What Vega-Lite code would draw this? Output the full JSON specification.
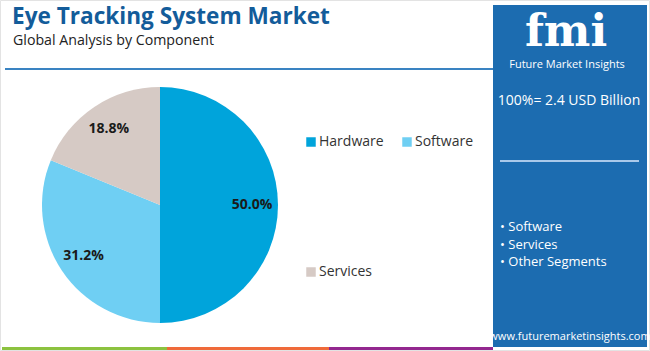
{
  "$schema": "https://vega.github.io/schema/vega-lite/v6.json",
  "width": 650,
  "height": 351,
  "autosize": {"type": "fit", "contains": "padding"},
  "padding": 0,
  "background": "white",
  "config": {"view": {"stroke": null}, "font": "Open Sans"},
  "datasets": {
    "share": [
      {"component": "Hardware", "share": 0.5, "rank": 1},
      {"component": "Software", "share": 0.312, "rank": 2},
      {"component": "Services", "share": 0.188, "rank": 3}
    ],
    "one": [{"k": 1}]
  },
  "layer": [
    {
      "data": {"name": "one"},
      "mark": {"type": "rect", "fill": "white", "stroke": "#e3e3e3", "strokeWidth": 1},
      "encoding": {"x": {"value": 0.5}, "x2": {"value": 649.5}, "y": {"value": 0.5}, "y2": {"value": 350.5}}
    },
    {
      "data": {"name": "one"},
      "mark": {"type": "text", "text": "Eye Tracking System Market", "fontWeight": "bold", "fontSize": 22.6, "color": "#135c9a", "align": "left", "baseline": "alphabetic"},
      "encoding": {"x": {"value": 12}, "y": {"value": 24}}
    },
    {
      "data": {"name": "one"},
      "mark": {"type": "text", "text": "Global Analysis by Component", "fontSize": 14.2, "color": "#222222", "align": "left", "baseline": "alphabetic"},
      "encoding": {"x": {"value": 13}, "y": {"value": 45}}
    },
    {
      "data": {"name": "one"},
      "mark": {"type": "rule", "color": "#3a83c2", "strokeWidth": 2},
      "encoding": {"x": {"value": 5}, "x2": {"value": 493}, "y": {"value": 69}}
    },
    {
      "data": {"name": "one"},
      "mark": {"type": "rect", "fill": "#1c6cb0"},
      "encoding": {"x": {"value": 493}, "x2": {"value": 647}, "y": {"value": 5}, "y2": {"value": 347}}
    },
    {
      "data": {"name": "one"},
      "mark": {"type": "text", "text": "fmi", "font": "DejaVu Serif", "fontWeight": "bold", "fontSize": 44, "color": "white", "align": "center", "baseline": "alphabetic"},
      "encoding": {"x": {"value": 566}, "y": {"value": 46}}
    },
    {
      "data": {"name": "one"},
      "mark": {"type": "text", "text": "Future Market Insights", "fontSize": 11, "color": "white", "align": "center", "baseline": "alphabetic"},
      "encoding": {"x": {"value": 567}, "y": {"value": 68}}
    },
    {
      "data": {"name": "one"},
      "mark": {"type": "text", "text": "100%= 2.4 USD Billion", "fontSize": 14, "color": "white", "align": "center", "baseline": "alphabetic"},
      "encoding": {"x": {"value": 569}, "y": {"value": 105}}
    },
    {
      "data": {"name": "one"},
      "mark": {"type": "rule", "color": "#a9c9ea", "strokeWidth": 2},
      "encoding": {"x": {"value": 500}, "x2": {"value": 639}, "y": {"value": 161}}
    },
    {
      "data": {"values": [{"t": "• Software", "r": 1}, {"t": "• Services", "r": 2}, {"t": "• Other Segments", "r": 3}]},
      "mark": {"type": "text", "fontSize": 13, "color": "white", "align": "left", "baseline": "middle"},
      "encoding": {
        "text": {"field": "t"},
        "x": {"value": 500},
        "y": {"field": "r", "type": "quantitative", "scale": {"domain": [1, 3], "range": [227, 262], "zero": false}, "axis": null}
      }
    },
    {
      "data": {"name": "one"},
      "mark": {"type": "text", "text": "www.futuremarketinsights.com", "fontSize": 11, "color": "white", "align": "center", "baseline": "alphabetic"},
      "encoding": {"x": {"value": 570}, "y": {"value": 340}}
    },
    {
      "data": {"values": [{"s": 2, "e": 167, "c": "g"}, {"s": 167, "e": 329, "c": "o"}, {"s": 329, "e": 493, "c": "p"}]},
      "mark": {"type": "rule", "strokeWidth": 3},
      "encoding": {
        "x": {"field": "s", "type": "quantitative", "scale": {"domain": [0, 650], "range": [0, 650]}, "axis": null},
        "x2": {"field": "e"},
        "y": {"value": 348.5},
        "color": {"field": "c", "type": "nominal", "scale": {"domain": ["g", "o", "p"], "range": ["#8cc23f", "#ef6a3a", "#93278f"]}, "legend": null}
      }
    },
    {
      "data": {"name": "share"},
      "layer": [
        {
          "mark": {"type": "arc", "outerRadius": 118},
          "encoding": {
            "theta": {"field": "share", "type": "quantitative", "stack": true},
            "order": {"field": "rank"},
            "fill": {
              "field": "component",
              "type": "nominal",
              "scale": {"domain": ["Hardware", "Software", "Services"], "range": ["#00a4db", "#6fcff3", "#d6cac5"]},
              "legend": {
                "title": null,
                "orient": "none",
                "legendX": 304,
                "legendY": 135,
                "direction": "horizontal",
                "columns": 2,
                "columnPadding": 16,
                "rowPadding": 116,
                "symbolType": "square",
                "symbolSize": 90,
                "labelFontSize": 14,
                "labelColor": "#333333",
                "labelOffset": 1,
                "padding": 0
              }
            },
            "x": {"value": 160},
            "y": {"value": 205}
          }
        },
        {
          "mark": {"type": "text", "radius": 92, "fontSize": 14, "fontWeight": "bold", "color": "#1a1a1a"},
          "encoding": {
            "theta": {"field": "share", "type": "quantitative", "stack": true},
            "order": {"field": "rank"},
            "text": {"field": "share", "type": "quantitative", "format": ".1%"},
            "x": {"value": 160},
            "y": {"value": 205}
          }
        }
      ]
    }
  ],
  "resolve": {"scale": {"color": "independent", "y": "independent", "x": "independent"}}
}
